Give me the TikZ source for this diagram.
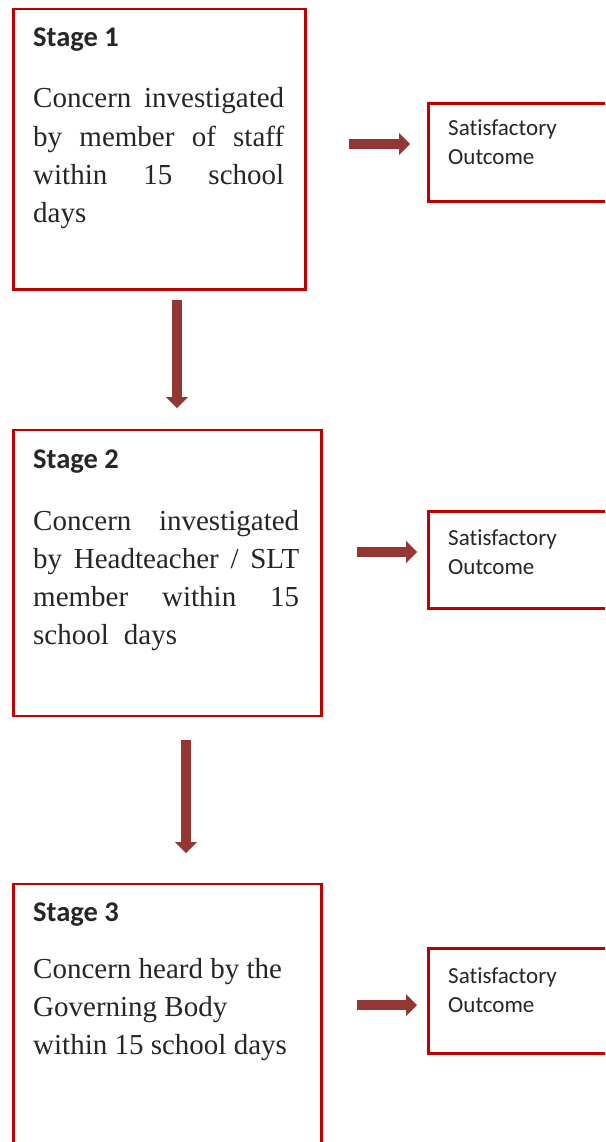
\documentclass[tikz,border=0pt]{standalone}
\usepackage{fontspec}
\setmainfont{Liberation Serif}
\newfontfamily\calfont[Ligatures=NoCommon]{Carlito}
\usetikzlibrary{arrows.meta}
\definecolor{boxred}{HTML}{C00000}
\definecolor{arrowred}{HTML}{943634}
\definecolor{txt}{HTML}{262626}
\begin{document}
\begin{tikzpicture}[x=1pt,y=-1pt,
  framebox/.style={draw=boxred,line width=2.5pt,anchor=north west,inner sep=0pt,fill=none},
  head/.style={anchor=base west,inner sep=0pt,text=txt,font=\calfont\bfseries\fontsize{28.5}{34}\selectfont},
  body/.style={anchor=base west,inner sep=0pt,text=txt,font=\fontsize{29}{38.3}\selectfont},
  sattext/.style={anchor=base west,inner sep=0pt,text=txt,font=\calfont\fontsize{23}{29}\selectfont},
  bigarrow/.style={draw=arrowred,line width=10pt,-{Triangle[length=11pt,width=22pt,line width=0pt]}}]
\useasboundingbox (0,0) rectangle (605,1142);
\clip (0,0) rectangle (605,1142);
\fill[white] (0,0) rectangle (605,1142);

% stage boxes
\node[framebox,minimum width=292pt,minimum height=280pt] (b1) at (12,8) {};
\node[framebox,minimum width=308pt,minimum height=286pt] (b2) at (12,428.5) {};
\node[framebox,minimum width=308pt,minimum height=300pt] (b3) at (12,882.5) {};

% outcome boxes
\node[framebox,minimum width=200pt,minimum height=97.5pt] (s1) at (427,102.5) {};
\node[framebox,minimum width=200pt,minimum height=97pt] (s2) at (427,510) {};
\node[framebox,minimum width=200pt,minimum height=105pt] (s3) at (427,947) {};

% headings
\node[head] (h1) at (33,47) {Stage 1};
\node[head] (h2) at (33,468) {Stage 2};
\node[head] (h3) at (33,921) {Stage 3};

% body texts
\node[body] (t1) at (33,108) {\parbox[t]{251pt}{%
\makebox[251pt][s]{Concern investigated}\\
\makebox[251pt][s]{by member of staff}\\
\makebox[251pt][s]{within 15 school}\\
days}};
\node[body] (t2) at (33,530) {\parbox[t]{266pt}{%
\makebox[266pt][s]{Concern investigated}\\
\makebox[266pt][s]{by Headteacher / SLT}\\
\makebox[266pt][s]{member within 15}\\
school\hspace{15pt}days}};
\node[body] (t3) at (33,978) {\parbox[t]{275pt}{%
Concern heard by the\\
Governing Body\\
within 15 school days}};

% outcome texts
\node[sattext] (o1) at (448,136) {\parbox[t]{150pt}{Satisfactory\\Outcome}};
\node[sattext] (o2) at (448,545) {\parbox[t]{150pt}{Satisfactory\\Outcome}};
\node[sattext] (o3) at (448,983) {\parbox[t]{150pt}{Satisfactory\\Outcome}};

% arrow end points
\coordinate (a1s) at (349,144);  \coordinate (a1e) at (410,144);
\coordinate (a2s) at (357,552);  \coordinate (a2e) at (417,552);
\coordinate (a3s) at (357,1005); \coordinate (a3e) at (417,1005);
\coordinate (d1s) at (177,300);  \coordinate (d1e) at (177,408);
\coordinate (d2s) at (186,740);  \coordinate (d2e) at (186,853);

\draw[bigarrow] (a1s) -- (a1e);
\draw[bigarrow] (a2s) -- (a2e);
\draw[bigarrow] (a3s) -- (a3e);
\draw[bigarrow] (d1s) -- (d1e);
\draw[bigarrow] (d2s) -- (d2e);
\end{tikzpicture}
\end{document}
